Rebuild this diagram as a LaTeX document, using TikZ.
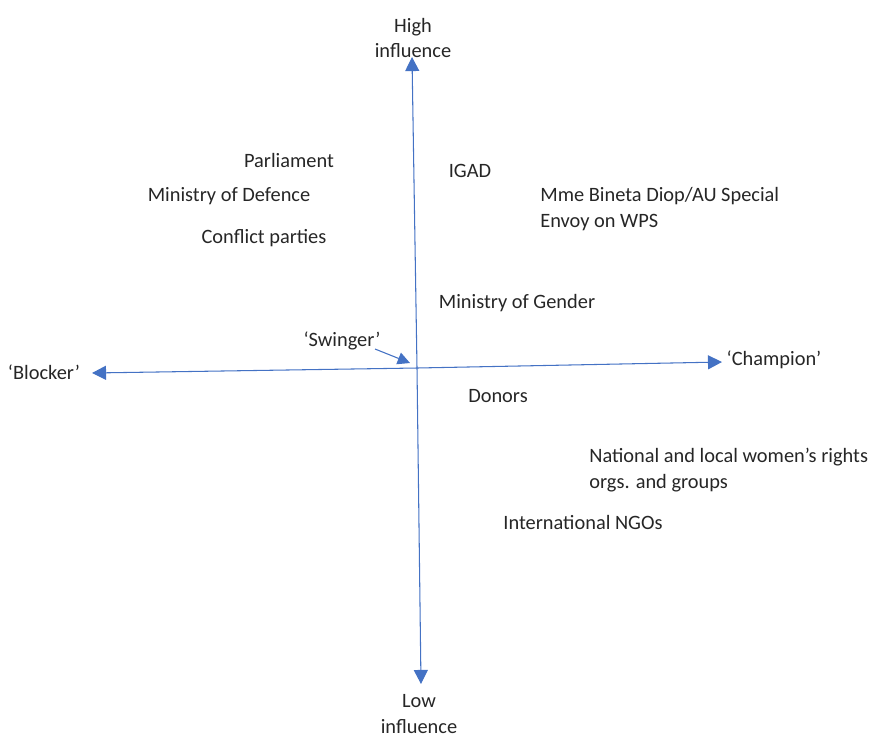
\documentclass[tikz,border=0pt]{standalone}
\usepackage{fontspec}
\setmainfont{Carlito}
\usetikzlibrary{arrows.meta}
\definecolor{axisblue}{HTML}{4472C4}
\tikzset{
  axis/.style={draw=axisblue,line width=0.6pt,-{Triangle[length=8pt,width=8pt]}},
  lbl/.style={font=\fontsize{11.6}{14.7}\selectfont,text=black!85,inner sep=0pt},
  blk/.style={lbl,align=left,anchor=west}
}
\begin{document}
\begin{tikzpicture}[x=0.02cm,y=-0.02cm]
\useasboundingbox (0,0) rectangle (872,738);
% axes
\coordinate (c) at (417,368);
\coordinate (top) at (412,57);
\coordinate (bot) at (421,684);
\coordinate (lft) at (92,373);
\coordinate (rgt) at (722,362);
\draw[axis] (c) -- (top);
\draw[axis] (c) -- (bot);
\draw[axis] (c) -- (lft);
\draw[axis] (c) -- (rgt);
% axis labels
\node[lbl,align=center] (hi) at (413,38) {High\\influence};
\node[lbl,align=center] (lo) at (419,714) {Low\\influence};
\node[lbl] (blocker) at (44,372) {`Blocker'};
\node[lbl] (champ) at (774,360) {`Champion'};
\node[lbl] (swing) at (342,341) {`Swinger'};
\coordinate (swingfrom) at (375,349);
\coordinate (swingtip) at (410,363);
\draw[draw=axisblue,line width=0.6pt,-{Triangle[length=7pt,width=7pt]}] (swingfrom) -- (swingtip);
% actors
\node[lbl] (parl) at (289,160) {Parliament};
\node[lbl] (mod) at (229,196) {Ministry of Defence};
\node[lbl] (conf) at (264,238) {Conflict parties};
\node[lbl] (igad) at (470,171) {IGAD};
\node[blk] (au) at (540,209) {Mme Bineta Diop/AU Special\\Envoy on WPS};
\node[lbl] (gender) at (517,303) {Ministry of Gender};
\node[lbl] (donors) at (498,396) {Donors};
\node[blk] (women) at (589,470) {National and local women’s rights\\orgs. and groups};
\node[lbl] (ngo) at (583,522) {International NGOs};
\end{tikzpicture}
\end{document}
